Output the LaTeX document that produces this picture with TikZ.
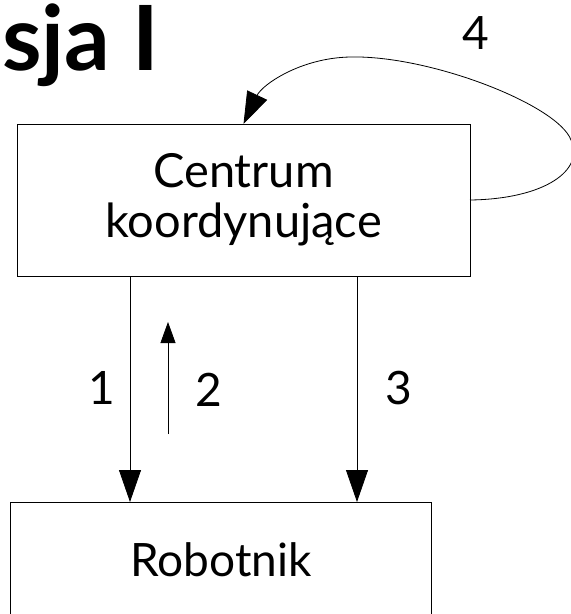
\documentclass[tikz,border=0pt]{standalone}
\usepackage{fontspec}
\setmainfont{Lato}
\usetikzlibrary{arrows.meta}
\begin{document}
\begin{tikzpicture}[x=1pt,y=-1pt,
  every node/.style={inner sep=0pt, outer sep=0pt},
  block/.style={draw, line width=0.8pt, align=center, font=\fontsize{47}{50}\selectfont},
  numlabel/.style={font=\fontsize{46}{52}\selectfont},
  bigarrow/.style={line width=0.8pt, -{Triangle[length=32pt, width=22pt]}},
  smallarrow/.style={line width=0.8pt, -{Triangle[length=21pt, width=15pt]}}]
  \useasboundingbox (0,0) rectangle (571,614);

  % heading, partly outside the page on the left
  \node[anchor=base east, font=\fontsize{90}{96}\bfseries] (title) at (159,70) {sja I};

  % blocks
  \node[block, minimum width=453pt, minimum height=152pt] (centrum) at (243.5,200) {Centrum\\koordynujące};
  \node[block, minimum width=421pt, minimum height=160pt, anchor=north west] (robotnik) at (10,502) {};
  \node[font=\fontsize{46}{52}\selectfont] (robtext) at (221,560) {Robotnik};

  % vertical links
  \coordinate (a1top) at (130,276);
  \coordinate (a1bot) at (130,502);
  \coordinate (a3top) at (357,276);
  \coordinate (a3bot) at (357,502);
  \coordinate (a2bot) at (168,434);
  \coordinate (a2top) at (168,322);
  \draw[bigarrow] (a1top) -- (a1bot);
  \draw[bigarrow] (a3top) -- (a3bot);
  \draw[smallarrow] (a2bot) -- (a2top);

  \node[numlabel] (n1) at (102,388) {1};
  \node[numlabel] (n2) at (209,390) {2};
  \node[numlabel] (n3) at (399,388) {3};
  \node[numlabel] (n4) at (476,33) {4};

  % feedback loop
  \draw[bigarrow] (centrum.east) .. controls (545,199) and (585,170) .. (571,140)
    .. controls (558,105) and (430,55) .. (350,57)
    .. controls (300,58) and (262,85) .. (centrum.north);
\end{tikzpicture}
\end{document}
